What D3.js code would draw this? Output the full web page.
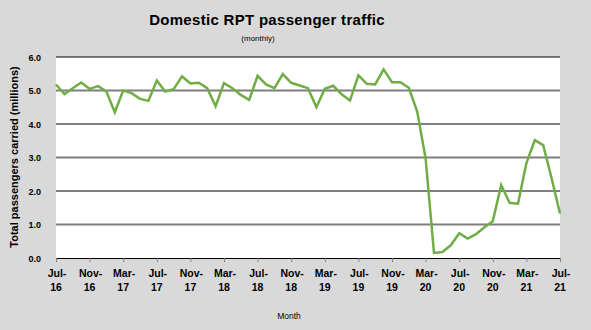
<!DOCTYPE html>
<html><head><meta charset="utf-8">
<script src="https://cdn.jsdelivr.net/npm/d3@7"></script>
<style>body{margin:0;background:#d9d9d9;} svg{display:block;font-family:"Liberation Sans",Arial,sans-serif;}</style>
</head><body>
<script>
const startMonth = "2016-07";
const values = [5.18,4.89,5.07,5.24,5.05,5.13,4.97,4.35,5.00,4.92,4.75,4.69,
  5.30,4.97,5.04,5.42,5.21,5.23,5.07,4.53,5.22,5.07,4.87,4.72,
  5.44,5.18,5.07,5.49,5.23,5.15,5.07,4.50,5.05,5.14,4.89,4.70,
  5.45,5.20,5.18,5.63,5.25,5.25,5.08,4.37,2.97,0.15,0.18,0.38,
  0.74,0.58,0.71,0.92,1.10,2.18,1.65,1.62,2.83,3.52,3.37,2.38,1.33];
const yTicks = [0,1,2,3,4,5,6];
const xTickLabels = [["Jul-","16"],["Nov-","16"],["Mar-","17"],["Jul-","17"],["Nov-","17"],["Mar-","18"],["Jul-","18"],["Nov-","18"],["Mar-","19"],["Jul-","19"],["Nov-","19"],["Mar-","20"],["Jul-","20"],["Nov-","20"],["Mar-","21"],["Jul-","21"]];

const W=591,H=330;
const svg=d3.select("body").append("svg").attr("width",W).attr("height",H);
svg.append("rect").attr("width",W).attr("height",H).attr("fill","#d9d9d9");
const L=56,R=560,T=57,B=258;
const x=d3.scaleLinear().domain([0,values.length-1]).range([L,R]);
const y=d3.scaleLinear().domain([0,6]).range([B,T]);
svg.append("rect").attr("x",L).attr("y",T).attr("width",R-L).attr("height",B-T).attr("fill","#fff");
// gridlines
svg.selectAll(".g").data(yTicks.filter(d=>d>0)).enter().append("line")
  .attr("x1",L).attr("x2",R).attr("y1",d=>y(d)).attr("y2",d=>y(d))
  .attr("stroke",d=>d%2? "#7f7f7f":"#000").attr("stroke-width",d=>d%2?2:1);
// y labels
svg.selectAll(".yl").data(yTicks).enter().append("text")
  .attr("x",41).attr("y",d=>y(d)+3.5).attr("text-anchor","end")
  .attr("font-size",9).attr("font-weight","bold").text(d=>d.toFixed(1));
// x axis
const xa=d3.axisBottom(x).tickValues(d3.range(0,values.length,4)).tickSize(4).tickFormat("");
const gx=svg.append("g").attr("transform",`translate(0,${B})`).call(xa);
gx.select(".domain").attr("stroke","#000");
gx.selectAll(".tick line").attr("stroke","#808080");
const lbl=svg.selectAll(".xl").data(xTickLabels).enter().append("text")
  .attr("text-anchor","middle").attr("font-size",10.5).attr("font-weight","bold");
lbl.append("tspan").attr("x",(d,i)=>x(i*4)+1).attr("y",277).text(d=>d[0]);
lbl.append("tspan").attr("x",(d,i)=>x(i*4)).attr("y",291).text(d=>d[1]);
// line
svg.append("path").datum(values).attr("fill","none").attr("stroke","#70ad47").attr("stroke-width",2.5)
  .attr("stroke-linejoin","miter")
  .attr("d",d3.line().x((d,i)=>x(i)).y(d=>y(d)));
// titles
svg.append("text").attr("x",267).attr("y",25).attr("text-anchor","middle").attr("font-size",15).attr("font-weight","bold")
  .attr("letter-spacing",0.3).text("Domestic RPT passenger traffic");
svg.append("text").attr("x",258).attr("y",41).attr("text-anchor","middle").attr("font-size",8).text("(monthly)");
svg.append("text").attr("x",289).attr("y",319).attr("text-anchor","middle").attr("font-size",8.5).text("Month");
svg.append("text").attr("transform","translate(18,157) rotate(-90)").attr("text-anchor","middle")
  .attr("font-size",11).attr("font-weight","bold").text("Total passengers carried (millions)");
</script>
</body></html>
